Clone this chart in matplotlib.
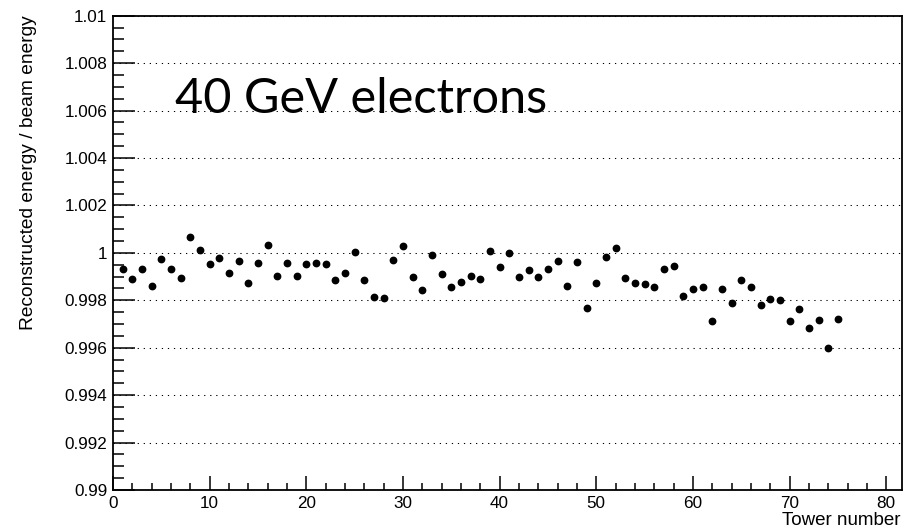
import matplotlib
matplotlib.use('Agg')
import matplotlib.pyplot as plt
from matplotlib.ticker import MultipleLocator, FuncFormatter

plt.rcParams['font.family'] = ['Liberation Sans', 'DejaVu Sans']

tower = list(range(1, 76))
ratio = [0.99931, 0.99889, 0.99934, 0.99861, 0.99976, 0.99934, 0.99892, 1.00065, 1.00013, 0.99952,
         0.99979, 0.99913, 0.99965, 0.99871, 0.99958, 1.00034, 0.99903, 0.99958, 0.99903, 0.99955,
         0.99956, 0.99955, 0.99886, 0.99916, 1.00003, 0.99886, 0.99813, 0.99810, 0.99970, 1.00031,
         0.99897, 0.99844, 0.99992, 0.99910, 0.99858, 0.99876, 0.99904, 0.99890, 1.00008, 0.99942,
         1.00000, 0.99897, 0.99928, 0.99900, 0.99934, 0.99966, 0.99861, 0.99963, 0.99768, 0.99871,
         0.99981, 1.00021, 0.99892, 0.99871, 0.99868, 0.99858, 0.99931, 0.99944, 0.99819, 0.99847,
         0.99858, 0.99713, 0.99847, 0.99787, 0.99885, 0.99855, 0.99779, 0.99807, 0.99800, 0.99713,
         0.99762, 0.99684, 0.99716, 0.99598, 0.99721]

fig = plt.figure(figsize=(9.14, 5.32), dpi=100)
ax = fig.add_axes([0.1236, 0.0789, 0.8629, 0.8916])

ax.plot(tower, ratio, 'o', color='black', markersize=4.6, zorder=3)

ax.set_xlim(0, 81.6)
ax.set_ylim(0.99, 1.01)

ax.xaxis.set_major_locator(MultipleLocator(10))
ax.xaxis.set_minor_locator(MultipleLocator(2))
ax.yaxis.set_major_locator(MultipleLocator(0.002))
ax.yaxis.set_minor_locator(MultipleLocator(0.0005))

def yfmt(v, pos):
    s = ('%.3f' % v).rstrip('0').rstrip('.')
    return s
ax.yaxis.set_major_formatter(FuncFormatter(yfmt))

ax.tick_params(axis='both', which='both', direction='in', top=False, right=False,
               width=1.1, labelsize=12.3, color='black')
ax.tick_params(axis='y', which='major', length=16, pad=4)
ax.tick_params(axis='y', which='minor', length=8)
ax.tick_params(axis='x', which='major', length=10, pad=4)
ax.tick_params(axis='x', which='minor', length=5)

for s in ax.spines.values():
    s.set_linewidth(1.3)

ax.yaxis.grid(True, which='major', color='black', linewidth=0.75,
              linestyle=(0, (1.2, 4.6)))
ax.set_axisbelow(True)

ax.set_ylabel('Reconstructed energy / beam energy', fontsize=13.8)
ax.yaxis.set_label_coords(-0.0964, 0.669)
fig.text(0.985, 0.014, 'Tower number', ha='right', va='baseline', fontsize=13.5)

ax.text(6.4, 1.0059, '40 GeV electrons', fontsize=35, fontfamily='Lato',
        color='black', ha='left', va='baseline')

fig.savefig('out.png', dpi=100)
